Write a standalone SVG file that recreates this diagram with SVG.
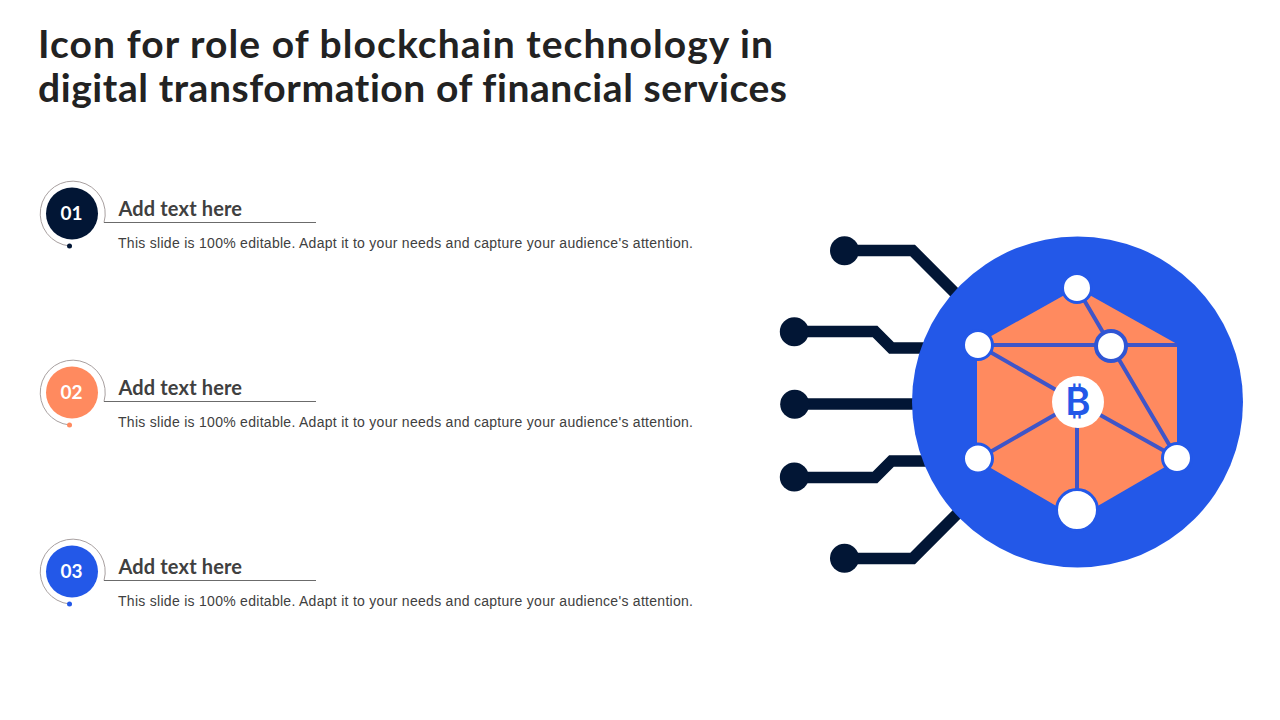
<svg xmlns="http://www.w3.org/2000/svg" width="1280" height="720" viewBox="0 0 1280 720">
<style>
.title{font-family:"Lato","Liberation Sans",sans-serif;font-weight:700;font-size:39px;fill:#222222;font-variant-ligatures:none}
.head{font-family:"Lato","Liberation Sans",sans-serif;font-weight:700;font-size:20px;fill:#404040}
.desc{font-family:"Liberation Sans",Arial,sans-serif;font-size:14px;fill:#404040}
.num{font-family:"Lato","Liberation Sans",sans-serif;font-weight:700;font-size:19px;fill:#ffffff;text-anchor:middle}
.ring{fill:none;stroke:#a8a0a0;stroke-width:1}
.rule{stroke:#6b6b6b;stroke-width:1}
.wire{fill:none;stroke:#021635;stroke-width:11.5;stroke-linejoin:miter}
.pin{fill:#021635}
.link{fill:none;stroke:#3f55c8;stroke-width:4}
.hub{fill:#ffffff;stroke:#2358e8;stroke-width:3}
</style>
<rect width="1280" height="720" fill="#ffffff"/>
<g id="title">
<text class="title" x="38" y="57.500" textLength="735" lengthAdjust="spacing">Icon for role of blockchain technology in</text>
<text class="title" x="38" y="101.500" textLength="749" lengthAdjust="spacing">digital transformation of financial services</text>
</g>
<g id="item-1">
<path class="ring" d="M104 222.500A32.500 32.500 0 1 0 69.500 246"/>
<circle cx="69.500" cy="246" r="2.500" fill="#021635"/>
<circle cx="72" cy="213.500" r="26" fill="#021635"/>
<text class="num" x="71.500" y="219.500">01</text>
<line class="rule" x1="104" y1="222.500" x2="316" y2="222.500"/>
<text class="head" x="118.500" y="216" textLength="123.500" lengthAdjust="spacing">Add text here</text>
<text class="desc" x="118" y="248" textLength="575" lengthAdjust="spacing">This slide is 100% editable. Adapt it to your needs and capture your audience's attention.</text>
</g>
<g id="item-2">
<path class="ring" d="M104 401.500A32.500 32.500 0 1 0 69.500 425"/>
<circle cx="69.500" cy="425" r="2.500" fill="#ff8a5f"/>
<circle cx="72" cy="392.500" r="26" fill="#ff8a5f"/>
<text class="num" x="71.500" y="398.500">02</text>
<line class="rule" x1="104" y1="401.500" x2="316" y2="401.500"/>
<text class="head" x="118.500" y="395" textLength="123.500" lengthAdjust="spacing">Add text here</text>
<text class="desc" x="118" y="427" textLength="575" lengthAdjust="spacing">This slide is 100% editable. Adapt it to your needs and capture your audience's attention.</text>
</g>
<g id="item-3">
<path class="ring" d="M104 580.500A32.500 32.500 0 1 0 69.500 604"/>
<circle cx="69.500" cy="604" r="2.500" fill="#2358e8"/>
<circle cx="72" cy="571.500" r="26" fill="#2358e8"/>
<text class="num" x="71.500" y="577.500">03</text>
<line class="rule" x1="104" y1="580.500" x2="316" y2="580.500"/>
<text class="head" x="118.500" y="574" textLength="123.500" lengthAdjust="spacing">Add text here</text>
<text class="desc" x="118" y="606" textLength="575" lengthAdjust="spacing">This slide is 100% editable. Adapt it to your needs and capture your audience's attention.</text>
</g>
<g id="connectors">
<path class="wire" d="M845 250.500H912.600L962 300"/>
<path class="wire" d="M795 331.500H875L891.500 348H930"/>
<path class="wire" d="M795 404H920"/>
<path class="wire" d="M795 477.500H875L891.500 461H930"/>
<path class="wire" d="M845 558.500H912.600L962 509"/>
</g>
<g id="pins">
<circle class="pin" cx="844.500" cy="250.700" r="14.500"/>
<circle class="pin" cx="794.300" cy="331.700" r="14.500"/>
<circle class="pin" cx="794.700" cy="404.300" r="14.500"/>
<circle class="pin" cx="794.300" cy="477" r="14.500"/>
<circle class="pin" cx="844.500" cy="558.300" r="14.500"/>
</g>
<g id="disc"><circle cx="1077.500" cy="402" r="165.500" fill="#2358e8"/></g>
<g id="hexagon"><polygon points="1077,288 1177,344 1177,460 1077,518 977,460 977,344" fill="#ff8a5f"/></g>
<g id="links">
<path class="link" d="M978 345H1177M1077 288L1111 346L1177 458M978 345L1077 402L978 459M1077 402L1177 458M1077 402V510"/>
</g>
<g id="node-top"><circle class="hub" cx="1077" cy="288" r="14.500"/></g>
<g id="node-upper-left"><circle class="hub" cx="978" cy="345" r="14.500"/></g>
<g id="node-upper-right"><circle class="hub" cx="1111" cy="346" r="15" style="stroke:#2f55d4;stroke-width:4"/></g>
<g id="node-lower-left"><circle class="hub" cx="978" cy="458.500" r="14.500"/></g>
<g id="node-lower-right"><circle class="hub" cx="1177" cy="458" r="14.500"/></g>
<g id="node-bottom"><circle class="hub" cx="1077" cy="510" r="20.500"/></g>
<g id="node-centre">
<circle cx="1078" cy="402" r="26" fill="#ffffff"/>
<text x="1078" y="415" text-anchor="middle" font-family="Inter,'DejaVu Sans','Noto Sans',sans-serif" font-size="38" font-weight="600" fill="#2358e8">₿</text>
</g>
</svg>
